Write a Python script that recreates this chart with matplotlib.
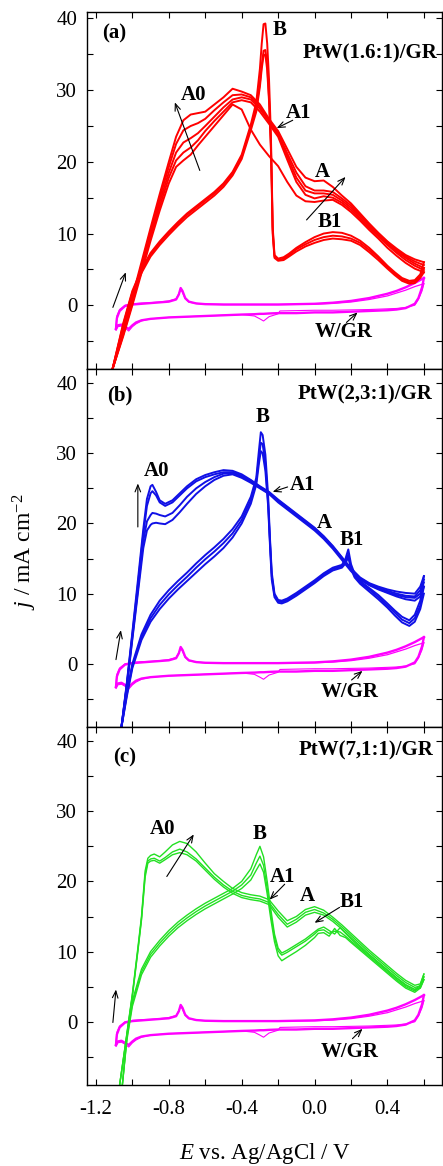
import matplotlib
matplotlib.use("Agg")
import matplotlib.pyplot as plt
from matplotlib.ticker import MultipleLocator, FormatStrFormatter

plt.rcParams['font.family'] = ['Liberation Serif', 'DejaVu Serif']
plt.rcParams['mathtext.fontset'] = 'custom'
plt.rcParams['mathtext.rm'] = 'Liberation Serif'
plt.rcParams['mathtext.it'] = 'Liberation Serif:italic'
plt.rcParams['axes.unicode_minus'] = False

# W/GR background CV (same in every panel)
wgr_fwd_E = [-1.09, -1.085, -1.07, -1.04, -1.0, -0.95, -0.9, -0.85, -0.8, -0.76, -0.745, -0.735,
             -0.725, -0.71, -0.69, -0.65, -0.6, -0.5, -0.4, -0.3, -0.2, -0.1, 0.0, 0.1, 0.2,
             0.3, 0.4, 0.45, 0.5, 0.55, 0.6]
wgr_fwd_j1 = [-3.3, -1.8, -0.8, -0.1, 0.1, 0.2, 0.3, 0.4, 0.5, 0.8, 1.5, 2.4, 2.0, 1.0, 0.5,
              0.25, 0.15, 0.1, 0.1, 0.1, 0.1, 0.15, 0.2, 0.35, 0.6, 1.0, 1.6, 2.0, 2.5, 3.1, 3.8]
wgr_fwd_j2 = [-3.0, -1.5, -0.6, 0.0, 0.2, 0.3, 0.35, 0.45, 0.6, 0.9, 1.6, 2.2, 1.8, 0.9, 0.45,
              0.25, 0.15, 0.1, 0.1, 0.1, 0.1, 0.12, 0.15, 0.25, 0.45, 0.8, 1.3, 1.7, 2.1, 2.6, 3.0]
wgr_bwd_E = [0.6, 0.59, 0.57, 0.55, 0.5, 0.45, 0.4, 0.3, 0.2, 0.1, 0.0, -0.1, -0.19, -0.2,
             -0.25, -0.28, -0.3, -0.33, -0.4, -0.5, -0.6, -0.7, -0.8, -0.9, -0.95, -0.98,
             -1.0, -1.02, -1.04, -1.06, -1.08, -1.09]
wgr_bwd_j1 = [3.8, 2.5, 1.0, 0.2, -0.4, -0.6, -0.7, -0.8, -0.9, -1.0, -1.0, -1.1, -1.1, -1.1,
              -1.15, -1.2, -1.2, -1.25, -1.3, -1.4, -1.5, -1.6, -1.7, -1.9, -2.1, -2.4, -2.8,
              -3.3, -3.0, -2.7, -2.8, -3.3]
wgr_bwd_j2 = [3.0, 2.0, 0.8, 0.0, -0.3, -0.45, -0.5, -0.6, -0.65, -0.7, -0.7, -0.75, -0.8, -1.2,
              -1.6, -2.2, -1.9, -1.5, -1.3, -1.4, -1.5, -1.6, -1.7, -1.9, -2.2, -2.6, -3.0,
              -3.6, -3.2, -2.9, -3.0, -3.5]

# panel (a) PtW(1.6:1)/GR
a_fwd_E = [-1.11, -1.05, -1.0, -0.95, -0.9, -0.85, -0.8, -0.76, -0.72, -0.68, -0.64, -0.6, -0.55,
           -0.5, -0.45, -0.4, -0.35, -0.3, -0.25, -0.2, -0.15, -0.1, -0.05, 0.0, 0.05, 0.1, 0.15,
           0.2, 0.25, 0.3, 0.35, 0.4, 0.45, 0.5, 0.55, 0.6]
a_fwd_j1 = [-9.0, -4.3, 0.0, 4.5, 9.0, 13.2, 17.0, 19.3, 20.2, 21.0, 22.3, 23.5, 25.0, 26.5, 28.0,
            27.3, 24.5, 22.4, 20.8, 19.4, 17.2, 15.3, 14.5, 14.4, 14.6, 14.7, 14.0, 13.0, 11.8,
            10.5, 9.3, 8.0, 6.9, 5.9, 5.1, 4.6]
a_fwd_j2 = [-9.0, -4.1, 0.3, 5.0, 9.5, 13.8, 17.8, 20.2, 21.3, 22.0, 23.0, 24.3, 25.7, 27.0, 28.3,
            28.6, 28.3, 27.0, 25.3, 23.5, 20.3, 17.2, 15.4, 14.9, 15.2, 15.0, 14.3, 13.3, 12.1,
            10.8, 9.6, 8.4, 7.3, 6.3, 5.5, 4.9]
a_fwd_j3 = [-9.0, -3.9, 0.6, 5.3, 10.0, 14.4, 18.5, 21.3, 22.7, 23.3, 24.0, 25.0, 26.3, 27.6, 28.7,
            29.0, 28.7, 27.4, 25.6, 23.8, 20.8, 17.8, 16.0, 15.6, 15.6, 15.4, 14.6, 13.6, 12.4,
            11.1, 9.8, 8.6, 7.5, 6.6, 5.8, 5.2]
a_fwd_j4 = [-9.0, -3.7, 0.9, 5.6, 10.4, 15.0, 19.3, 22.5, 24.4, 25.0, 25.4, 26.0, 27.2, 28.3, 29.3,
            29.4, 29.0, 27.7, 25.8, 24.0, 21.2, 18.5, 16.6, 16.0, 16.0, 15.8, 14.9, 13.9, 12.6,
            11.3, 10.0, 8.8, 7.7, 6.8, 6.1, 5.6]
a_fwd_j5 = [-9.0, -3.5, 1.2, 6.0, 10.8, 15.5, 20.0, 23.5, 25.8, 26.6, 26.8, 27.0, 28.0, 29.0, 30.2,
            29.8, 29.3, 28.0, 26.0, 24.3, 21.8, 19.3, 17.8, 17.3, 17.4, 16.5, 15.3, 14.2, 12.8,
            11.4, 10.1, 8.9, 7.9, 7.0, 6.4, 6.0]
a_bwd_E = [0.6, 0.58, 0.55, 0.52, 0.48, 0.44, 0.4, 0.35, 0.3, 0.25, 0.2, 0.15, 0.1, 0.05, 0.0,
           -0.05, -0.1, -0.14, -0.17, -0.2, -0.22, -0.23, -0.235, -0.24, -0.25, -0.26, -0.27,
           -0.28, -0.29, -0.3, -0.32, -0.35, -0.4, -0.45, -0.5, -0.55, -0.6, -0.65, -0.7, -0.75,
           -0.8, -0.85, -0.9, -0.95, -1.0, -1.05, -1.11]
a_bwd_j1 = [6.0, 4.3, 3.5, 3.4, 3.8, 4.6, 5.5, 6.8, 8.0, 9.0, 9.7, 10.1, 10.2, 10.0, 9.5, 8.8, 8.0,
            7.2, 6.7, 6.5, 7.0, 11.0, 18.0, 24.0, 31.5, 36.5, 39.3, 39.2, 36.5, 33.0, 28.3, 25.2,
            21.0, 18.6, 17.0, 15.8, 14.8, 13.8, 12.8, 11.6, 10.3, 8.9, 7.3, 5.0, 2.0, -2.5, -9.0]
a_bwd_j2 = [5.2, 4.0, 3.3, 3.2, 3.6, 4.4, 5.3, 6.6, 7.7, 8.7, 9.3, 9.6, 9.7, 9.5, 9.1, 8.5, 7.8,
            7.0, 6.5, 6.3, 6.8, 10.5, 17.0, 22.5, 29.0, 33.5, 35.6, 35.5, 33.5, 31.0, 27.5, 24.8,
            20.7, 18.4, 16.8, 15.6, 14.6, 13.6, 12.6, 11.4, 10.1, 8.7, 7.1, 4.8, 1.8, -2.7, -9.0]
a_bwd_j3 = [4.6, 3.8, 3.1, 3.0, 3.4, 4.2, 5.1, 6.3, 7.4, 8.4, 9.0, 9.2, 9.3, 9.1, 8.7, 8.2, 7.5,
            6.8, 6.3, 6.2, 6.6, 10.0, 16.5, 22.0, 28.5, 32.8, 35.0, 34.8, 33.0, 30.5, 27.0, 24.4,
            20.4, 18.1, 16.5, 15.3, 14.3, 13.3, 12.3, 11.1, 9.8, 8.4, 6.8, 4.5, 1.5, -3.0, -9.0]

# panel (b) PtW(2,3:1)/GR
b_fwd_E = [-1.06, -1.03, -1.0, -0.97, -0.94, -0.92, -0.9, -0.89, -0.87, -0.85, -0.82, -0.78, -0.74,
           -0.7, -0.65, -0.6, -0.55, -0.5, -0.45, -0.4, -0.35, -0.3, -0.25, -0.2, -0.15, -0.1,
           -0.05, 0.0, 0.05, 0.1, 0.15, 0.2, 0.25, 0.3, 0.35, 0.4, 0.45, 0.5, 0.55, 0.58, 0.6]
b_fwd_j1 = [-9.0, -3.2, 3.5, 10.0, 16.5, 19.0, 19.8, 20.0, 20.1, 20.0, 19.9, 20.5, 21.6, 22.8, 24.2,
            25.3, 26.2, 26.8, 27.0, 26.5, 25.8, 25.0, 24.2, 23.0, 22.0, 21.0, 20.0, 19.0, 17.8,
            16.4, 14.8, 13.2, 12.0, 11.2, 10.6, 10.1, 9.6, 9.2, 9.0, 9.6, 11.0]
b_fwd_j2 = [-9.0, -3.0, 3.8, 10.5, 17.5, 20.3, 21.2, 21.5, 21.4, 21.2, 21.0, 21.5, 22.6, 23.8, 25.0,
            25.9, 26.6, 27.1, 27.2, 26.7, 26.0, 25.1, 24.3, 23.2, 22.2, 21.2, 20.2, 19.2, 18.0,
            16.6, 15.0, 13.4, 12.1, 11.3, 10.7, 10.2, 9.8, 9.5, 9.4, 10.0, 11.6]
b_fwd_j3 = [-9.0, -2.8, 4.2, 11.2, 18.5, 22.5, 24.3, 24.6, 24.0, 23.0, 22.5, 23.0, 24.0, 25.0, 26.0,
            26.6, 27.0, 27.3, 27.3, 26.8, 26.1, 25.2, 24.4, 23.3, 22.3, 21.3, 20.3, 19.3, 18.1,
            16.7, 15.1, 13.5, 12.2, 11.4, 10.8, 10.4, 10.0, 9.7, 9.6, 10.5, 12.0]
b_fwd_j4 = [-9.0, -2.6, 4.5, 11.8, 19.2, 23.5, 25.3, 25.5, 24.5, 23.3, 22.8, 23.3, 24.3, 25.3, 26.3,
            26.9, 27.3, 27.6, 27.5, 27.0, 26.2, 25.3, 24.5, 23.4, 22.4, 21.4, 20.4, 19.4, 18.2,
            16.8, 15.2, 13.6, 12.3, 11.5, 11.0, 10.6, 10.3, 10.1, 10.0, 11.0, 12.5]
b_bwd_E = [0.6, 0.58, 0.55, 0.52, 0.48, 0.44, 0.4, 0.35, 0.3, 0.25, 0.22, 0.2, 0.185, 0.17, 0.15,
           0.1, 0.05, 0.0, -0.05, -0.1, -0.15, -0.18, -0.2, -0.22, -0.235, -0.245, -0.255, -0.27,
           -0.285, -0.295, -0.305, -0.32, -0.35, -0.4, -0.45, -0.5, -0.55, -0.6, -0.65, -0.7,
           -0.75, -0.8, -0.85, -0.9, -0.95, -1.0, -1.03, -1.06]
b_bwd_j1 = [12.5, 9.0, 7.0, 6.2, 6.7, 7.6, 8.6, 9.8, 10.8, 11.8, 12.8, 14.2, 16.3, 15.0, 14.1, 13.7,
            12.9, 11.9, 11.0, 10.1, 9.3, 9.0, 9.1, 10.0, 13.0, 18.0, 24.0, 29.8, 32.6, 33.0, 30.5,
            26.5, 23.8, 21.0, 19.2, 17.8, 16.6, 15.5, 14.3, 13.0, 11.8, 10.5, 9.0, 7.0, 4.2, 0.0,
            -4.0, -9.0]
b_bwd_j2 = [11.0, 8.3, 6.5, 5.8, 6.3, 7.3, 8.3, 9.5, 10.6, 11.6, 12.5, 13.8, 15.6, 14.6, 13.9, 13.5,
            12.7, 11.7, 10.8, 9.9, 9.1, 8.8, 8.9, 9.8, 12.5, 17.5, 23.0, 28.5, 31.3, 31.5, 29.5,
            26.0, 23.3, 20.5, 18.6, 17.2, 16.0, 14.9, 13.7, 12.4, 11.2, 9.9, 8.4, 6.5, 3.8, -0.3,
            -4.3, -9.0]
b_bwd_j3 = [10.0, 7.8, 6.0, 5.4, 5.9, 6.9, 8.0, 9.2, 10.3, 11.4, 12.3, 13.5, 15.2, 14.3, 13.7, 13.3,
            12.5, 11.5, 10.6, 9.7, 8.9, 8.6, 8.7, 9.5, 12.0, 17.0, 22.5, 27.5, 30.0, 30.3, 28.6,
            25.5, 22.8, 20.0, 18.0, 16.5, 15.3, 14.2, 13.0, 11.8, 10.6, 9.3, 7.8, 6.0, 3.4, -0.6,
            -4.6, -9.0]

# panel (c) PtW(7,1:1)/GR
c_fwd_E = [-1.07, -1.04, -1.0, -0.97, -0.95, -0.93, -0.915, -0.9, -0.88, -0.85, -0.82, -0.78, -0.74,
           -0.7, -0.65, -0.6, -0.55, -0.5, -0.45, -0.4, -0.35, -0.3, -0.25, -0.2, -0.15, -0.1,
           -0.05, 0.0, 0.05, 0.1, 0.15, 0.2, 0.25, 0.3, 0.35, 0.4, 0.45, 0.5, 0.55, 0.58, 0.6]
c_fwd_j1 = [-9.0, -3.5, 4.0, 10.5, 15.0, 21.5, 23.3, 23.7, 23.9, 23.5, 24.2, 25.2, 25.7, 25.4, 24.2,
            22.6, 21.1, 20.0, 19.0, 18.4, 18.1, 17.9, 17.4, 15.8, 14.4, 15.0, 16.0, 16.4, 15.9,
            14.9, 13.8, 12.6, 11.4, 10.2, 9.1, 8.0, 6.9, 5.9, 5.2, 5.4, 6.8]
c_fwd_j2 = [-9.0, -3.6, 3.8, 10.2, 14.7, 21.0, 22.9, 23.2, 23.3, 22.9, 23.4, 24.2, 24.6, 24.2, 23.2,
            21.9, 20.6, 19.5, 18.6, 18.0, 17.7, 17.5, 17.0, 15.3, 13.9, 14.6, 15.6, 16.0, 15.5,
            14.6, 13.5, 12.3, 11.1, 9.9, 8.8, 7.7, 6.6, 5.6, 4.9, 5.1, 6.4]
c_fwd_j3 = [-9.0, -3.7, 3.6, 10.0, 14.5, 20.6, 22.6, 22.9, 23.0, 22.6, 23.1, 23.8, 24.1, 23.8, 22.9,
            21.6, 20.3, 19.2, 18.3, 17.7, 17.4, 17.2, 16.7, 14.9, 13.5, 14.2, 15.2, 15.6, 15.2,
            14.3, 13.2, 12.0, 10.8, 9.6, 8.5, 7.4, 6.3, 5.3, 4.6, 4.8, 6.0]
c_bwd_E = [0.6, 0.58, 0.55, 0.5, 0.45, 0.4, 0.35, 0.3, 0.25, 0.2, 0.17, 0.14, 0.11, 0.08, 0.05,
           0.02, 0.0, -0.05, -0.1, -0.15, -0.18, -0.2, -0.22, -0.24, -0.26, -0.28, -0.3, -0.32,
           -0.35, -0.4, -0.45, -0.5, -0.55, -0.6, -0.65, -0.7, -0.75, -0.8, -0.85, -0.9, -0.95,
           -1.0, -1.03, -1.055]
c_bwd_j1 = [6.8, 5.2, 4.6, 5.2, 6.2, 7.3, 8.4, 9.5, 10.6, 11.8, 12.6, 13.4, 12.5, 13.0, 13.5, 13.2,
            12.8, 11.8, 11.0, 10.2, 9.8, 10.5, 12.5, 16.0, 20.0, 23.5, 25.0, 23.8, 21.8, 20.0,
            19.0, 18.3, 17.6, 16.9, 16.1, 15.2, 14.2, 13.0, 11.6, 10.0, 7.5, 3.0, -2.0, -9.0]
c_bwd_j2 = [6.4, 5.0, 4.4, 5.0, 6.0, 7.1, 8.2, 9.3, 10.4, 11.5, 12.2, 12.8, 12.9, 12.6, 13.1, 13.0,
            12.5, 11.5, 10.7, 9.9, 9.5, 10.1, 12.0, 15.3, 19.0, 22.3, 23.6, 22.6, 20.9, 19.5,
            18.6, 17.9, 17.2, 16.5, 15.7, 14.8, 13.8, 12.6, 11.2, 9.6, 7.1, 2.6, -2.3, -9.0]
c_bwd_j3 = [6.0, 4.8, 4.2, 4.8, 5.8, 6.9, 8.0, 9.1, 10.2, 11.3, 12.0, 12.3, 13.3, 12.2, 12.7, 12.6,
            12.0, 10.9, 10.0, 9.2, 8.7, 9.4, 11.4, 14.6, 18.2, 21.3, 22.5, 21.6, 20.2, 19.0,
            18.2, 17.5, 16.8, 16.1, 15.3, 14.4, 13.4, 12.2, 10.8, 9.2, 6.7, 2.2, -2.6, -9.0]

x_ticks = [-1.2, -0.8, -0.4, 0.0, 0.4]


def draw_cv(ax, color, lw, fwd_E, fwd_js, bwd_E, bwd_js):
    ax.plot(wgr_fwd_E, wgr_fwd_j2, color='#ff00ff', lw=0.9)
    ax.plot(wgr_bwd_E, wgr_bwd_j2, color='#ff00ff', lw=0.8)
    ax.plot(wgr_fwd_E, wgr_fwd_j1, color='#ff00ff', lw=1.7)
    ax.plot(wgr_bwd_E, wgr_bwd_j1, color='#ff00ff', lw=1.7)
    for j in fwd_js:
        ax.plot(fwd_E, j, color=color, lw=lw)
    for j in bwd_js:
        ax.plot(bwd_E, j, color=color, lw=lw)


def style_axes(ax, ylim, show_x):
    ax.set_xlim(-1.249, 0.70)
    ax.set_ylim(*ylim)
    ax.xaxis.set_major_locator(MultipleLocator(0.4))
    ax.xaxis.set_minor_locator(MultipleLocator(0.2))
    ax.xaxis.set_major_formatter(FormatStrFormatter('%.1f'))
    ax.yaxis.set_major_locator(MultipleLocator(10))
    ax.yaxis.set_minor_locator(MultipleLocator(5))
    ax.tick_params(which='both', direction='in', top=True, right=True, length=4, width=0.8)
    ax.tick_params(axis='y', labelsize=15, pad=7)
    ax.tick_params(axis='x', labelsize=15, pad=11)
    ax.set_xticks(x_ticks)
    if not show_x:
        ax.tick_params(axis='x', labelbottom=False)
    for s in ax.spines.values():
        s.set_linewidth(1.0)


def label(ax, s, x, y, ha='center'):
    ax.text(x, y, s, fontsize=15, fontweight='bold', ha=ha, va='center')


def arrow(ax, tail, head):
    ax.annotate('', xy=head, xytext=tail,
                arrowprops=dict(arrowstyle='->,head_length=0.5,head_width=0.2', lw=0.8, color='k',
                                shrinkA=0, shrinkB=0))


fig = plt.figure(figsize=(4.43, 11.66), dpi=100)
ax_a = fig.add_axes([0.1964, 0.6835, 0.8016, 0.3062])
ax_b = fig.add_axes([0.1964, 0.3765, 0.8016, 0.3070])
ax_c = fig.add_axes([0.1964, 0.0695, 0.8016, 0.3070])

draw_cv(ax_a, '#ff0000', 1.4, a_fwd_E, [a_fwd_j1, a_fwd_j2, a_fwd_j3, a_fwd_j4, a_fwd_j5],
        a_bwd_E, [a_bwd_j1, a_bwd_j2, a_bwd_j3])
draw_cv(ax_b, '#1010e6', 1.4, b_fwd_E, [b_fwd_j1, b_fwd_j2, b_fwd_j3, b_fwd_j4],
        b_bwd_E, [b_bwd_j1, b_bwd_j2, b_bwd_j3])
draw_cv(ax_c, '#22e022', 1.0, c_fwd_E, [c_fwd_j1, c_fwd_j2, c_fwd_j3],
        c_bwd_E, [c_bwd_j1, c_bwd_j2, c_bwd_j3])

style_axes(ax_a, (-8.9, 40.9), False)
style_axes(ax_b, (-9, 42), False)
style_axes(ax_c, (-9, 42), True)

# panel (a) labels
label(ax_a, '(a)', -1.167, 37.9, ha='left')
label(ax_a, 'PtW(1.6:1)/GR', 0.672, 35.1, ha='right')
label(ax_a, 'B', -0.192, 38.4)
label(ax_a, 'A0', -0.663, 29.3)
arrow(ax_a, (-0.63, 18.8), (-0.767, 28.3))
label(ax_a, 'A1', -0.088, 26.8)
arrow(ax_a, (-0.12, 25.8), (-0.208, 24.7))
label(ax_a, 'A', 0.044, 18.6)
arrow(ax_a, (-0.044, 11.9), (0.17, 17.9))
label(ax_a, 'B1', 0.082, 11.6)
arrow(ax_a, (-1.107, -0.3), (-1.036, 4.6))
label(ax_a, 'W/GR', 0.159, -3.7)
arrow(ax_a, (0.175, -2.4), (0.236, -1.0))

# panel (b) labels
label(ax_b, '(b)', -1.14, 38.3, ha='left')
label(ax_b, 'PtW(2,3:1)/GR', 0.645, 38.4, ha='right')
label(ax_b, 'B', -0.285, 35.1)
label(ax_b, 'A0', -0.866, 27.5)
arrow(ax_b, (-0.97, 19.5), (-0.97, 25.7))
label(ax_b, 'A1', -0.066, 25.5)
arrow(ax_b, (-0.148, 25.2), (-0.23, 24.5))
label(ax_b, 'A', 0.055, 20.0)
label(ax_b, 'B1', 0.203, 17.6)
arrow(ax_b, (-1.09, 0.6), (-1.063, 4.8))
label(ax_b, 'W/GR', 0.192, -4.0)
arrow(ax_b, (0.203, -2.3), (0.263, -1.0))

# panel (c) labels
label(ax_c, '(c)', -1.107, 37.7, ha='left')
label(ax_c, 'PtW(7,1:1)/GR', 0.65, 38.7, ha='right')
label(ax_c, 'A0', -0.833, 27.4)
arrow(ax_c, (-0.811, 20.7), (-0.663, 26.7))
label(ax_c, 'B', -0.301, 26.7)
label(ax_c, 'A1', -0.175, 20.7)
arrow(ax_c, (-0.164, 19.6), (-0.247, 17.4))
label(ax_c, 'A', -0.038, 17.9)
label(ax_c, 'B1', 0.203, 17.0)
arrow(ax_c, (0.137, 16.3), (0.0, 14.1))
arrow(ax_c, (-1.107, -0.1), (-1.09, 4.6))
label(ax_c, 'W/GR', 0.192, -4.3)
arrow(ax_c, (0.208, -2.4), (0.263, -1.0))

fig.text(25 / 443, 0.527, r'$j$ / mA cm$^{-2}$', rotation=90, fontsize=17, ha='center', va='center')
fig.text(265 / 443, 0.011, r'$E$ vs. Ag/AgCl / V', fontsize=16.5, ha='center', va='center')

fig.savefig('out.png', dpi=100)
